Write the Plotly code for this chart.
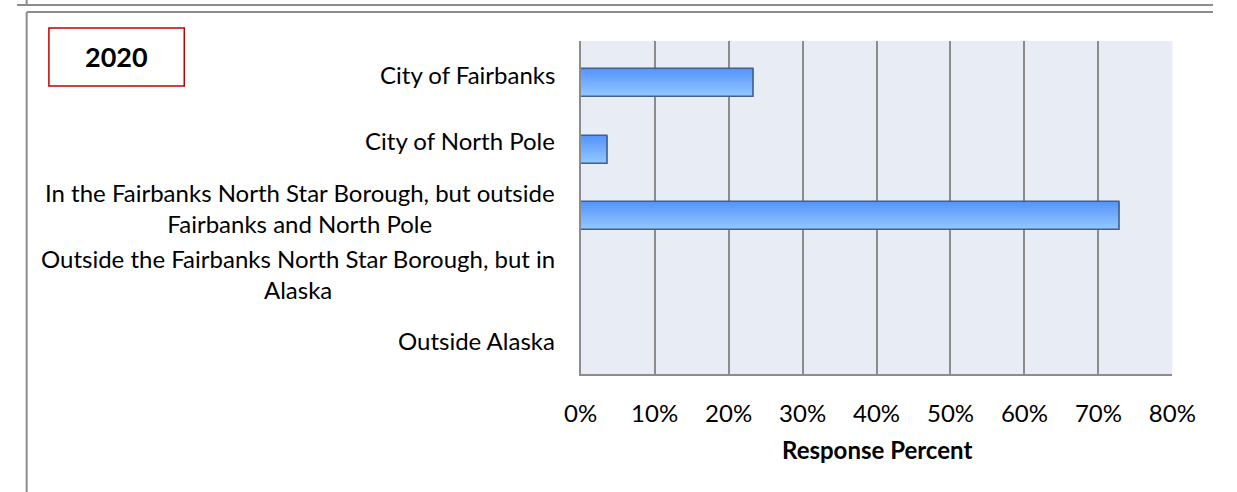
import plotly.graph_objects as go

# Survey responses: where respondents live (2020)
categories = [
    "City of Fairbanks",
    "City of North Pole",
    "In the Fairbanks North Star Borough, but outside<br>Fairbanks and North Pole",
    "Outside the Fairbanks North Star Borough, but in<br>Alaska",
    "Outside Alaska",
]
response_percent = [0.234, 0.037, 0.729, 0.0, 0.0]
x_ticks = [0, 0.1, 0.2, 0.3, 0.4, 0.5, 0.6, 0.7, 0.8]
x_tick_labels = ["0%", "10%", "20%", "30%", "40%", "50%", "60%", "70%", "80%"]
year_label = "2020"
axis_title = "Response Percent"

W, H = 1237, 492
FONT = "Lato, Calibri, Carlito, sans-serif"
TXT = 24


def px(x):
    return x / W


def py(y):
    return 1 - y / H


# plot area in pixels
PL, PR, PT, PB = 583, 1195, 41, 374

idx = list(range(len(categories)))
fig = go.Figure()

# bar body drawn as thin horizontal strips to give a vertical blue gradient
BAR_OFF, BAR_W = -0.08, 0.42
N = 14
top_rgb = (88, 150, 252)
bot_rgb = (146, 200, 255)
for i in range(N):
    t = i / (N - 1)
    c = tuple(round(a + (b - a) * t) for a, b in zip(top_rgb, bot_rgb))
    fig.add_trace(go.Bar(
        x=response_percent, y=idx, orientation="h",
        offset=BAR_OFF + i * BAR_W / N, width=BAR_W / N + 0.004,
        marker=dict(color="rgb(%d,%d,%d)" % c, line=dict(width=0)),
        hoverinfo="skip", showlegend=False,
    ))

# bar outline
fig.add_trace(go.Bar(
    x=response_percent, y=idx, orientation="h",
    offset=BAR_OFF, width=BAR_W,
    marker=dict(color="rgba(0,0,0,0)",
                line=dict(color=["#3D6190" if v > 0 else "rgba(0,0,0,0)" for v in response_percent],
                          width=1.5)),
    showlegend=False,
))

# category labels: right-aligned block, lines centred within it
for i, cat in enumerate(categories):
    fig.add_annotation(
        x=px(558), xref="paper", xanchor="right",
        y=i, yref="y", yanchor="middle",
        text=cat, showarrow=False, align="center",
        font=dict(family=FONT, size=TXT, color="#000000"),
    )

# axis title
fig.add_annotation(
    x=px((PL + PR) / 2), xref="paper", xanchor="center",
    y=py(449), yref="paper", yanchor="middle",
    text="<b>%s</b>" % axis_title, showarrow=False,
    font=dict(family=FONT, size=TXT, color="#000000"),
)

# year box
fig.add_shape(type="rect", xref="paper", yref="paper",
              x0=px(33), x1=px(173), y0=py(28), y1=py(86),
              line=dict(color="#C00000", width=1.5), fillcolor="#FFFFFF")
fig.add_annotation(
    x=px(103), xref="paper", xanchor="center",
    y=py(57), yref="paper", yanchor="middle",
    text="<b>%s</b>" % year_label, showarrow=False,
    font=dict(family=FONT, size=27, color="#000000"),
)

# frame lines of the surrounding panels
frame = dict(color="#8C8C8C", width=2)
for x0, y0, x1, y1 in [(0, 5, W, 5), (10, 0, 10, 5), (10, 12, W, 12), (10, 12, 10, H)]:
    fig.add_shape(type="line", xref="paper", yref="paper",
                  x0=px(x0), y0=py(y0), x1=px(x1), y1=py(y1), line=frame)

fig.update_layout(
    width=W, height=H,
    margin=dict(l=0, r=0, t=0, b=0),
    paper_bgcolor="#FFFFFF",
    plot_bgcolor="#E8ECF4",
    barmode="overlay",
    bargap=0,
    font=dict(family=FONT, size=TXT, color="#000000"),
    xaxis=dict(
        domain=[px(PL), px(PR)],
        range=[0, 0.8],
        tickvals=x_ticks, ticktext=x_tick_labels,
        showgrid=True, gridcolor="#8C8C8C", gridwidth=2,
        zeroline=False,
        showline=True, linecolor="#8C8C8C", linewidth=2,
        ticks="", ticklabelstandoff=17,
        tickfont=dict(family=FONT, size=TXT, color="#000000"),
        fixedrange=True,
    ),
    yaxis=dict(
        domain=[py(PB), py(PT)],
        range=[len(categories) - 0.5, -0.5],
        showticklabels=False, showgrid=False, zeroline=False,
        showline=True, linecolor="#8C8C8C", linewidth=2,
        fixedrange=True,
    ),
)

fig.write_html("out.html")
